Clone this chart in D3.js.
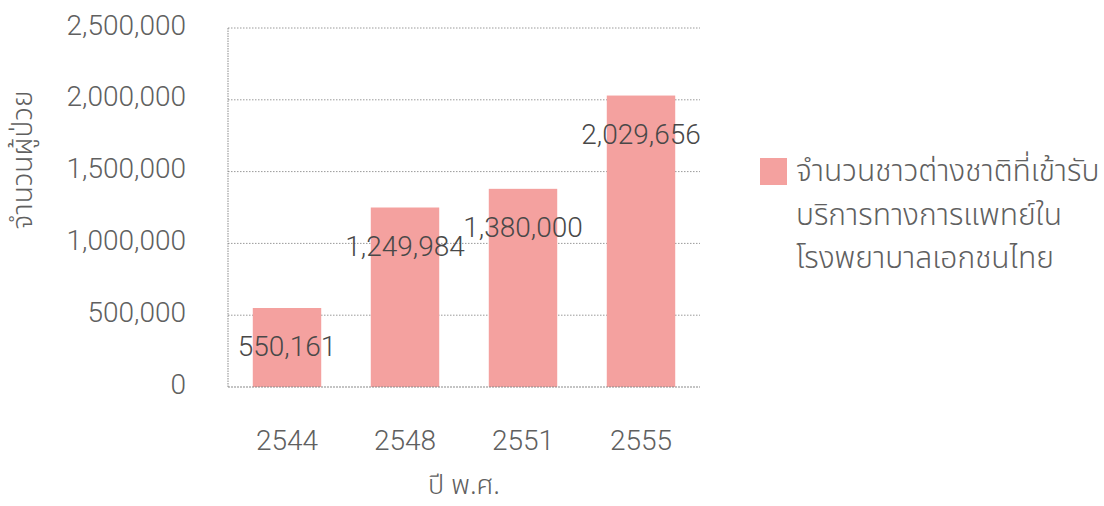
<!DOCTYPE html>
<html><head><meta charset="utf-8">
<script src="https://cdn.jsdelivr.net/npm/d3@7"></script>
<style>
body{margin:0;background:#fff;}
text{font-family:"Noto Sans Thai","Noto Sans","Liberation Sans",Arial,sans-serif;}
</style></head>
<body><svg id="c" width="1104" height="506"></svg>
<script>
const years = ["2544","2548","2551","2555"];
const values = [550161, 1249984, 1380000, 2029656];
const valueLabels = ["550,161","1,249,984","1,380,000","2,029,656"];
const yTicks = [0, 500000, 1000000, 1500000, 2000000, 2500000];
const yTitle = "จำนวนผู้ป่วย";
const xTitle = "ปี พ.ศ.";
const legendLines = ["จำนวนชาวต่างชาติที่เข้ารับ","บริการทางการแพทย์ใน","โรงพยาบาลเอกชนไทย"];

const svg = d3.select("#c");
const L = 228, R = 700, T = 28, B = 387;
const x = d3.scaleBand().domain(years).range([L, R]).paddingInner(0.42).paddingOuter(0.21);
const y = d3.scaleLinear().domain([0, 2500000]).range([B, T]);
const barColor = "#f4a19f";
const txt = "#606060";
const numFont = "Roboto, 'Liberation Sans', Arial, sans-serif";

// gridlines
svg.append("g").selectAll("line").data(yTicks.filter(d=>d>0)).join("line")
  .attr("x1", L).attr("x2", R).attr("y1", d=>y(d)).attr("y2", d=>y(d))
  .attr("stroke", "#9a9a9a").attr("stroke-width", 1).attr("stroke-dasharray", "1.5,1.5");
// left frame
svg.append("line").attr("x1", L).attr("x2", L).attr("y1", T).attr("y2", B)
  .attr("stroke", "#8a8a8a").attr("stroke-dasharray", "1.5,1");

// bars
svg.append("g").selectAll("rect").data(values).join("rect")
  .attr("x", (d,i)=>x(years[i])).attr("width", x.bandwidth())
  .attr("y", d=>y(d)).attr("height", d=>B - y(d)).attr("fill", barColor);

// baseline
svg.append("line").attr("x1", L).attr("x2", R).attr("y1", B).attr("y2", B)
  .attr("stroke", "#8a8a8a").attr("stroke-width", 1.2).attr("stroke-dasharray", "2,1");

// value labels
svg.append("g").selectAll("text").data(values).join("text")
  .attr("x", (d,i)=>x(years[i]) + x.bandwidth()/2)
  .attr("y", d=>y(d) + 48)
  .attr("text-anchor", "middle").attr("font-size", 28).attr("font-weight", 300)
  .attr("fill", "#484848").style("font-family", numFont)
  .text((d,i)=>valueLabels[i]);

// y axis
const yAxis = d3.axisLeft(y).tickValues(yTicks).tickFormat(d3.format(",")).tickSize(0).tickPadding(0);
const gy = svg.append("g").attr("transform", `translate(186,0)`).call(yAxis);
gy.select(".domain").remove();
gy.selectAll("text").attr("font-size", 28).attr("font-weight", 300).attr("fill", txt).attr("dy", "0.22em")
  .style("font-family", numFont);

// x axis
const xAxis = d3.axisBottom(x).tickSize(0).tickPadding(0);
const gx = svg.append("g").attr("transform", `translate(0,${B})`).call(xAxis);
gx.select(".domain").remove();
gx.selectAll("text").attr("font-size", 28).attr("font-weight", 300).attr("fill", txt).attr("dy", 0).attr("y", 63)
  .style("font-family", numFont);

// titles
svg.append("text").attr("transform", `translate(32,160) rotate(-90)`)
  .attr("text-anchor", "middle").attr("font-size", 28).attr("font-weight", 300).attr("fill", txt).text(yTitle);
svg.append("text").attr("x", (L+R)/2).attr("y", 494)
  .attr("text-anchor", "middle").attr("font-size", 27).attr("font-weight", 300).attr("fill", txt).text(xTitle);

// legend
svg.append("rect").attr("x", 760).attr("y", 158).attr("width", 27).attr("height", 27).attr("fill", barColor);
svg.append("g").selectAll("text").data(legendLines).join("text")
  .attr("x", 796).attr("y", (d,i)=>181 + i*43.5)
  .attr("font-size", 30).attr("font-weight", 300).attr("fill", txt).text(d=>d);
</script></body></html>
